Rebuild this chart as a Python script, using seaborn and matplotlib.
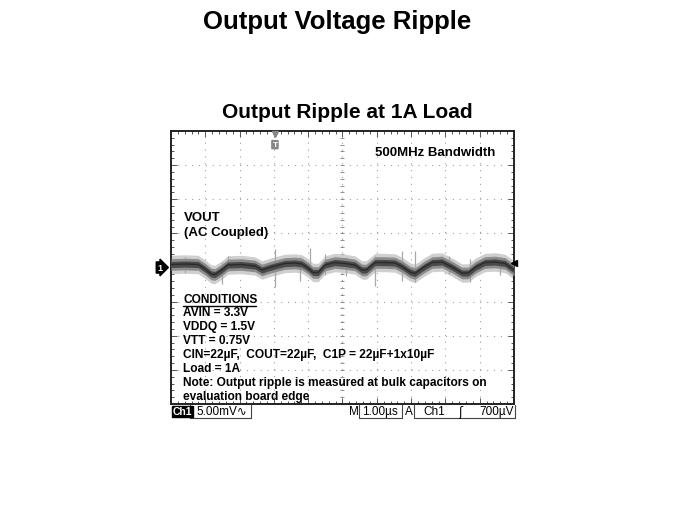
import numpy as np
import matplotlib
matplotlib.use("Agg")
import matplotlib.pyplot as plt
import seaborn as sns
import pandas as pd
from matplotlib.lines import Line2D

# ---- data (1 us/div, 5 mV/div) ----
time_us = [-5.00, -4.59, -4.21, -4.01, -3.83, -3.72, -3.54, -3.34, -2.96, -2.55,
           -2.35, -2.17, -1.97, -1.68, -1.38, -1.18, -1.01, -0.86, -0.71, -0.51,
           -0.22, 0.07, 0.36, 0.57, 0.69, 0.95, 1.24, 1.53, 1.73, 1.97,
           2.11, 2.38, 2.61, 2.90, 3.19, 3.48, 3.66, 3.89, 4.15, 4.45,
           4.74, 5.00]
vout_mV = [0.44, 0.51, 0.44, -0.22, -0.95, -1.03, -0.44, 0.37, 0.44, 0.22,
           -0.37, -0.07, 0.22, 0.59, 0.66, 0.51, -0.07, -0.73, -0.73, 0.37,
           0.73, 0.59, 0.37, -0.37, -0.37, 0.73, 0.73, 0.66, 0.15, -0.66,
           -0.88, 0.07, 0.73, 0.81, 0.07, -0.81, -0.81, 0.07, 0.73, 0.81,
           0.59, -0.37]
spike_time_us = [-4.59, -3.51, -3.34, -1.97, -1.24, -0.95, -0.51, 0.10, 0.95,
                 1.73, 2.11, 3.10, 3.72, 4.59]
spike_high_mV = [1.54, 0.80, 1.73, 2.71, 1.54, 2.86, 1.98, 1.54, 1.69,
                 2.42, 2.42, 1.69, 1.25, 1.54]
spike_low_mV = [-0.81, -2.42, -0.51, -2.86, -1.98, -0.95, -1.10, -1.25, -2.71,
                -1.98, -2.13, -0.95, -2.13, -1.10]
trigger_level_mV = 0.7
trigger_pos_us = -1.97

conditions = ["AVIN = 3.3V", "VDDQ = 1.5V", "VTT = 0.75V",
              "CIN=22\u00b5F,  COUT=22\u00b5F,  C1P = 22\u00b5F+1x10\u00b5F",
              "Load = 1A",
              "Note: Output ripple is measured at bulk capacitors on",
              "evaluation board edge"]

df = pd.DataFrame({"t": time_us, "v": vout_mV})
t = np.array(time_us)
v = np.array(vout_mV)

sns.set_theme(style="white")
plt.rcParams["font.family"] = ["Liberation Sans", "DejaVu Sans"]
plt.rcParams["lines.scale_dashes"] = False
plt.rcParams["text.color"] = "black"

W, H = 675, 506
fig = plt.figure(figsize=(W / 100, H / 100), dpi=100)
fig.patch.set_facecolor("white")

def fx(x):
    return x / W

def fy(y):
    return 1 - y / H

ax = fig.add_axes([fx(171), fy(405), 343 / W, 273 / H])
ax.set_xlim(-5, 5)
ax.set_ylim(-20, 20)

# graticule
dot = (0, (0.8, 4.14))
for gx in range(-4, 5):
    ax.axvline(gx, color="#a0a0a0", lw=0.8, ls=dot, zorder=0)
for gy in range(-15, 16, 5):
    ax.axhline(gy, color="#a0a0a0", lw=0.8, ls=dot, zorder=0)
ax.plot(np.arange(-5, 5.01, 0.2), np.zeros(51), ls="none", marker="|",
        ms=3.5, mew=0.7, color="#909090", zorder=0)
ax.plot(np.zeros(41), np.arange(-20, 20.01, 1.0), ls="none", marker="_",
        ms=3.5, mew=0.7, color="#909090", zorder=0)

# trace
ax.fill_between(t, v - 1.35, v + 1.35, color="#cfcfcf", lw=0, zorder=2)
ax.vlines(spike_time_us, spike_low_mV, spike_high_mV, color="#a8a8a8",
          lw=0.9, zorder=3)
ax.fill_between(t, v - 0.85, v + 0.85, color="#8c8c8c", lw=0, zorder=4)
ax.fill_between(t, v - 0.45, v + 0.45, color="#4a4a4a", lw=0, zorder=4)
sns.lineplot(data=df, x="t", y="v", ax=ax, color="#2a2a2a", lw=1.0,
             zorder=5, legend=False)

# ticks on the frame
ax.set_xticks(np.arange(-5, 5.01, 1))
ax.set_xticks(np.arange(-5, 5.01, 0.2), minor=True)
ax.set_yticks(np.arange(-20, 20.01, 5))
ax.set_yticks(np.arange(-20, 20.01, 1), minor=True)
ax.tick_params(which="both", direction="in", top=True, right=True,
               bottom=True, left=True, labelbottom=False, labelleft=False,
               color="#555555", width=0.7)
ax.tick_params(which="major", length=4)
ax.tick_params(which="minor", length=2.5)
ax.set_xlabel("")
ax.set_ylabel("")
for s in ax.spines.values():
    s.set_color("#222222")
    s.set_linewidth(1.4)

# markers
ax.plot([5], [trigger_level_mV], marker="<", ms=4, color="black",
        clip_on=False, zorder=6)
ax.plot([trigger_pos_us], [19.6], marker="v", ms=4, color="#888888",
        clip_on=False, zorder=6)
ax.text(trigger_pos_us, 18.0, "T", ha="center", va="center", fontsize=6,
        fontweight="bold", color="white",
        bbox=dict(boxstyle="round,pad=0.15", fc="#888888", ec="none"))
ax.annotate("1", xy=(0, 0), xycoords=("axes fraction", "data"),
            xytext=(-8, 0), textcoords="offset points", ha="center",
            va="center", fontsize=6.5, fontweight="bold", color="white",
            bbox=dict(boxstyle="rarrow,pad=0.12", fc="black", ec="black"),
            annotation_clip=False)

# titles
fig.text(fx(337), fy(22), "Output Voltage Ripple", ha="center", va="center",
         fontsize=18.5, fontweight="bold")
fig.text(fx(347), fy(113), "Output Ripple at 1A Load", ha="center",
         va="center", fontsize=15, fontweight="bold")

# on-screen annotations
fig.text(fx(375), fy(153), "500MHz Bandwidth", ha="left", va="center",
         fontsize=9.5, fontweight="bold")
fig.text(fx(184), fy(218), "VOUT", ha="left", va="center", fontsize=9.5,
         fontweight="bold")
fig.text(fx(184), fy(233), "(AC Coupled)", ha="left", va="center",
         fontsize=9.5, fontweight="bold")
fig.text(fx(183), fy(300), "CONDITIONS", ha="left", va="center",
         fontsize=8.6, fontweight="bold")
fig.add_artist(Line2D([fx(183), fx(256)], [fy(306.5), fy(306.5)],
                      color="black", lw=1.0))
ys = [313, 327, 341, 355, 369, 383, 397]
for yy, line in zip(ys, conditions):
    fig.text(fx(183), fy(yy), line, ha="left", va="center", fontsize=8.6,
             fontweight="bold")

# status bar
sb = 412.5
fig.text(fx(172.5), fy(sb), "Ch1", ha="left", va="center", fontsize=7.5,
         fontweight="bold", color="white",
         bbox=dict(boxstyle="square,pad=0.08", fc="black", ec="black"))
fig.text(fx(196), fy(sb), "5.00mV\u223f", ha="left", va="center",
         fontsize=8.5)
fig.text(fx(349), fy(sb), "M", ha="left", va="center", fontsize=8.5)
fig.text(fx(362), fy(sb), "1.00\u00b5s", ha="left", va="center", fontsize=8.5)
fig.text(fx(405), fy(sb), "A", ha="left", va="center", fontsize=8.5)
fig.text(fx(423), fy(sb), "Ch1", ha="left", va="center", fontsize=8.5)
fig.text(fx(458), fy(sb), "\u0283", ha="left", va="center", fontsize=8.5,
         family=["DejaVu Sans"])
fig.text(fx(514), fy(sb), "700\u00b5V", ha="right", va="center", fontsize=8.5)
for (x0, x1) in [(190, 251), (359, 402), (414, 515)]:
    fig.add_artist(Line2D([fx(x0), fx(x0), fx(x1), fx(x1)],
                          [fy(406), fy(419), fy(419), fy(406)],
                          color="#444444", lw=0.8))

fig.savefig("out.png", dpi=100, facecolor="white")
